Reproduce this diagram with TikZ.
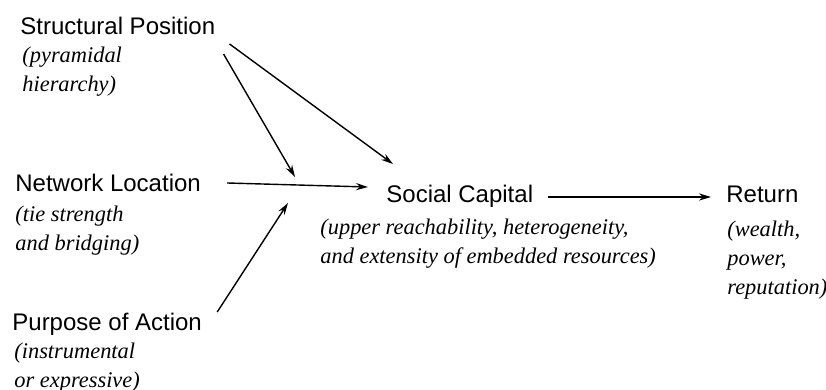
\documentclass[tikz,border=0pt]{standalone}
\usepackage{fontspec}
\setmainfont{Liberation Serif}
\setsansfont{Liberation Sans}
\usetikzlibrary{arrows.meta}

\begin{document}
\begin{tikzpicture}[x=0.5pt,y=-0.5pt,
    head/.style={font=\sffamily\fontsize{12}{14}\selectfont, inner sep=0pt, anchor=base west},
    sub/.style={font=\itshape\fontsize{11.2}{14.5}\selectfont, inner sep=0pt, anchor=north west, align=left},
    arr/.style={-{Stealth[length=6pt,width=3.6pt]}, line width=0.7pt}]

        \useasboundingbox (0,0) rectangle (826,390);

        % Causes
        \node[head] (sp) at (20,35) {Structural Position};
        \node[sub] (spsub) at (22,47) {(pyramidal\\hierarchy)};

        \node[head] (nl) at (15,192) {Network Location};
        \node[sub] (nlsub) at (15,206) {(tie strength\\and bridging)};

        \node[head] (pa) at (12,330) {Purpose of Action};
        \node[sub] (pasub) at (14,343) {(instrumental\\or expressive)};

        % Social capital and return
        \node[head] (sc) at (386,203) {Social Capital};
        \node[sub] (scsub) at (320,219) {(upper reachability, heterogeneity,\\and extensity of embedded resources)};

        \node[head] (ret) at (726,203) {Return};
        \node[sub] (retsub) at (727,221) {(wealth,\\power,\\reputation)};

        % Free ends near the main path
        \coordinate (jn) at (295,177);
        \coordinate (jp) at (288,203);

        % Paths
        \draw[arr] ([shift={(14,9)}]sp.base east) -- ([shift={(7,-39)}]sc.base west);
        \draw[arr] ([shift={(8,19)}]sp.base east) -- (jn);
        \draw[arr] ([shift={(26,-9)}]nl.base east) -- ([shift={(-18,-16)}]sc.base west);
        \draw[arr] ([shift={(15,-18)}]pa.base east) -- (jp);
        \draw[arr] ([shift={(14,-6)}]sc.base east) -- ([shift={(-15,-6)}]ret.base west);

    \end{tikzpicture}
\end{document}
